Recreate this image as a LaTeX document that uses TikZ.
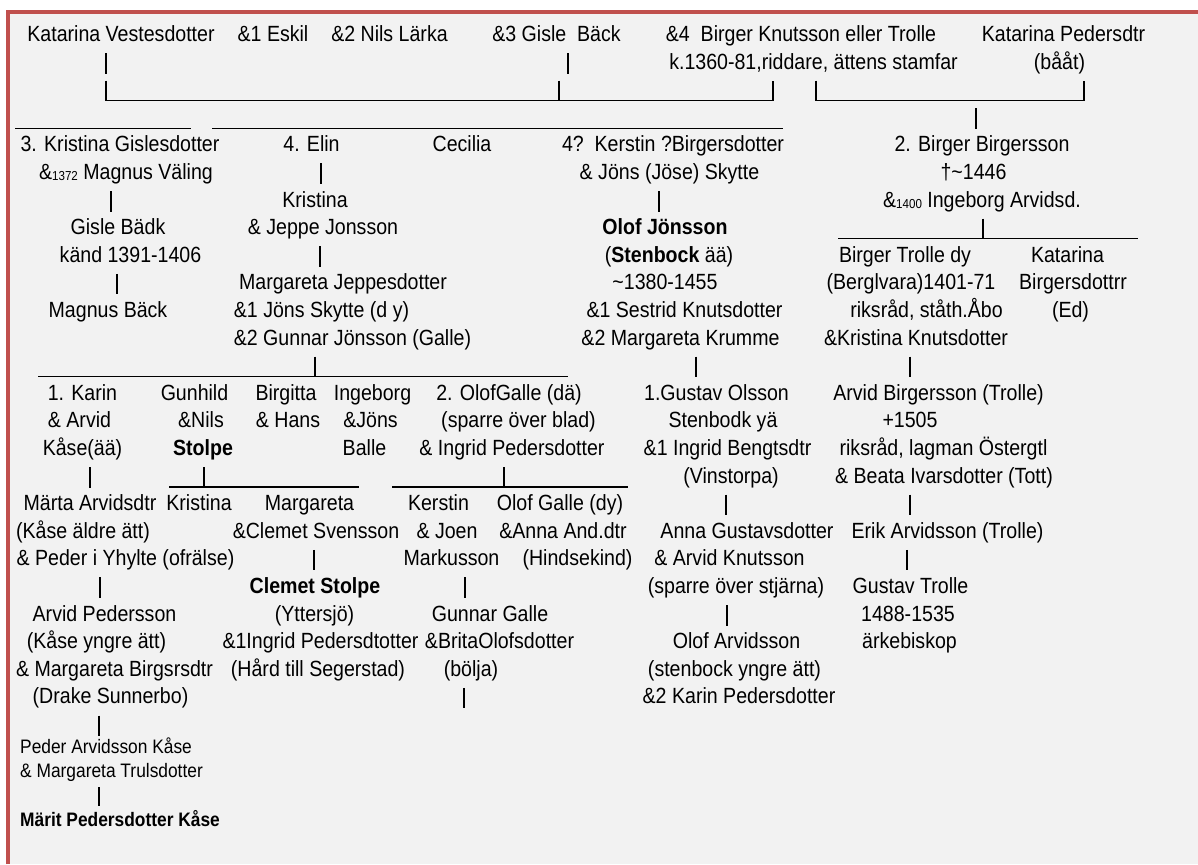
\documentclass[tikz,border=0pt]{standalone}
\usepackage{fontspec}
\setmainfont{Liberation Sans}[FakeStretch=0.89]
\definecolor{frame}{HTML}{C0504D}
\definecolor{paper}{HTML}{F2F2F2}
\newcommand\yr[1]{\raisebox{-1pt}{\fontsize{13}{13}\selectfont#1}}

\begin{document}
\begin{tikzpicture}[x=1pt,y=-1pt,
    txt/.style={anchor=base,inner sep=0pt,font=\fontsize{22}{26}\selectfont},
    strong/.style={txt,font=\fontsize{22}{26}\selectfont\bfseries},
    smalltxt/.style={anchor=base west,inner sep=0pt,font=\fontsize{19.5}{24}\selectfont},
    bar/.style={draw=black,line width=1.2pt}]
    \useasboundingbox (0,0) rectangle (1198,864);
    \fill[paper] (8,12) rectangle (1198,864);
    \draw[frame,line width=4pt] (8,864) -- (8,12) -- (1198,12);

    \begin{scope}[y=-27.6pt,yshift=-13.9pt]
        \node[txt] (katv) at (121,1) {Katarina Vestesdotter};
        \node[txt] (eskil) at (273,1) {\&1 Eskil};
        \node[txt] (nils) at (389.5,1) {\&2 Nils Lärka};
        \node[txt] (gisle) at (556.5,1) {\&3 Gisle\ \ Bäck};
        \node[txt] (birger) at (801,1) {\&4\ \ Birger Knutsson eller Trolle};
        \node[txt] (katp) at (1063.5,1) {Katarina Pedersdtr};
        \node[txt] (birger2) at (813.5,2) {k.1360-81,riddare, ättens stamfar};
        \node[txt] (katp2) at (1059.5,2) {(bååt)};
        \draw[bar] (106,1.42) -- (106,2.16);
        \draw[bar] (568,1.42) -- (568,2.16);
        \draw[bar] (106,2.42) -- (106,3.14) -- (773,3.14) -- (773,2.42);
        \draw[bar] (559,2.42) -- (559,3.14);
        \draw[bar] (816,2.42) -- (816,3.14) -- (1084,3.14) -- (1084,2.42);
        \draw[bar] (15,4.14) -- (191,4.14);
        \draw[bar] (212,4.14) -- (783,4.14);
        \draw[bar] (976,3.42) -- (976,4.16);

        \node[txt] (kristina) at (120,5) {3. Kristina Gislesdotter};
        \node[txt] (kristina2) at (126,6) {\&\yr{1372} Magnus Väling};
        \draw[bar] (111,6.42) -- (111,7.16);
        \node[txt] (gisleb) at (118,8) {Gisle Bädk};
        \node[txt] (gisleb2) at (130.5,9) {känd 1391-1406};
        \draw[bar] (117,9.42) -- (117,10.16);
        \node[txt] (magnus) at (108,11) {Magnus Bäck};

        \node[txt] (elin) at (311.5,5) {4. Elin};
        \draw[bar] (321,5.42) -- (321,6.16);
        \node[txt] (kristinaj) at (315,7) {Kristina};
        \node[txt] (kristinaj2) at (323,8) {\& Jeppe Jonsson};
        \draw[bar] (320,8.42) -- (320,9.16);
        \node[txt] (margj) at (343,10) {Margareta Jeppesdotter};
        \node[txt] (margj2) at (321.5,11) {\&1 Jöns Skytte (d y)};
        \node[txt] (margj3) at (352.5,12) {\&2 Gunnar Jönsson (Galle)};
        \node[txt] (cecilia) at (462,5) {Cecilia};

        \node[txt] (kerstin) at (673,5) {4?\ \ Kerstin ?Birgersdotter};
        \node[txt] (kerstin2) at (669.5,6) {\& Jöns (Jöse) Skytte};
        \draw[bar] (659,6.42) -- (659,7.16);
        \node[strong] (olofj) at (665,8) {Olof Jönsson};
        \node[txt] (olofj2) at (669,9) {(\textbf{Stenbock} ää)};
        \node[txt] (olofj3) at (665,10) {\textasciitilde1380-1455};
        \node[txt] (olofj4) at (684.5,11) {\&1 Sestrid Knutsdotter};
        \node[txt] (olofj5) at (680.5,12) {\&2 Margareta Krumme};

        \node[txt] (birgerb) at (982,5) {2. Birger Birgersson};
        \node[txt] (birgerb2) at (973.5,6) {†\textasciitilde1446};
        \node[txt] (birgerb3) at (982,7) {\&\yr{1400} Ingeborg Arvidsd.};
        \draw[bar] (838,8.14) -- (1138,8.14);
        \draw[bar] (983,7.42) -- (983,8.14);
        \node[txt] (birgert) at (905,9) {Birger Trolle dy};
        \node[txt] (birgert2) at (911,10) {(Berglvara)1401-71};
        \node[txt] (birgert3) at (926.5,11) {riksråd, ståth.Åbo};
        \node[txt] (birgert4) at (916,12) {\&Kristina Knutsdotter};
        \node[txt] (katb) at (1067.5,9) {Katarina};
        \node[txt] (katb2) at (1073,10) {Birgersdottrr};
        \node[txt] (katb3) at (1070.5,11) {(Ed)};

        \draw[bar] (38,13.14) -- (568,13.14);
        \draw[bar] (315,12.42) -- (315,13.14);
        \draw[bar] (696,12.42) -- (696,13.16);
        \draw[bar] (910,12.42) -- (910,13.16);

        \node[txt] (karin) at (82.5,14) {1. Karin};
        \node[txt] (karin2) at (79.5,15) {\& Arvid};
        \node[txt] (karin3) at (82.5,16) {Kåse(ää)};
        \node[txt] (gunhild) at (194.5,14) {Gunhild};
        \node[txt] (gunhild2) at (201,15) {\&Nils};
        \node[strong] (gunhild3) at (203,16) {Stolpe};
        \node[txt] (birgitta) at (286,14) {Birgitta};
        \node[txt] (birgitta2) at (288,15) {\& Hans};
        \node[txt] (ingeborg) at (372.5,14) {Ingeborg};
        \node[txt] (ingeborg2) at (370.5,15) {\&Jöns};
        \node[txt] (ingeborg3) at (364.5,16) {Balle};
        \node[txt] (olofg) at (509,14) {2. OlofGalle (dä)};
        \node[txt] (olofg2) at (518.5,15) {(sparre över blad)};
        \node[txt] (olofg3) at (512,16) {\& Ingrid Pedersdotter};
        \node[txt] (gustav) at (716.5,14) {1.Gustav Olsson};
        \node[txt] (gustav2) at (723,15) {Stenbodk yä};
        \node[txt] (gustav3) at (727.5,16) {\&1 Ingrid Bengtsdtr};
        \node[txt] (gustav4) at (731,17) {(Vinstorpa)};
        \node[txt] (arvidb) at (938.5,14) {Arvid Birgersson (Trolle)};
        \node[txt] (arvidb2) at (910,15) {+1505};
        \node[txt] (arvidb3) at (943.5,16) {riksråd, lagman Östergtl};
        \node[txt] (arvidb4) at (944,17) {\& Beata Ivarsdotter (Tott)};

        \draw[bar] (90,16.42) -- (90,17.16);
        \draw[bar] (169,17.14) -- (359,17.14);
        \draw[bar] (204,16.42) -- (204,17.14);
        \draw[bar] (392,17.14) -- (628,17.14);
        \draw[bar] (504,16.42) -- (504,17.14);
        \draw[bar] (726,17.42) -- (726,18.16);
        \draw[bar] (910,17.42) -- (910,18.16);

        \node[txt] (marta) at (90,18) {Märta Arvidsdtr};
        \node[txt] (marta2) at (83,19) {(Kåse äldre ätt)};
        \node[txt] (marta3) at (125.5,20) {\& Peder i Yhylte (ofrälse)};
        \draw[bar] (100,20.42) -- (100,21.16);
        \node[txt] (arvidp) at (104.5,22) {Arvid Pedersson};
        \node[txt] (arvidp2) at (96.5,23) {(Kåse yngre ätt)};
        \node[txt] (arvidp3) at (114.5,24) {\& Margareta Birgsrsdtr};
        \node[txt] (arvidp4) at (110.5,25) {(Drake Sunnerbo)};
        \draw[bar] (99,25.42) -- (99,26.16);
        \node[txt] (kristinas) at (199,18) {Kristina};
        \node[txt] (margs) at (309.5,18) {Margareta};
        \node[txt] (margs2) at (316,19) {\&Clemet Svensson};
        \draw[bar] (314,19.42) -- (314,20.16);
        \node[strong] (clemet) at (315,21) {Clemet Stolpe};
        \node[txt] (clemet2) at (314.5,22) {(Yttersjö)};
        \node[txt] (clemet3) at (320.5,23) {\&1Ingrid Pedersdtotter};
        \node[txt] (clemet4) at (318,24) {(Hård till Segerstad)};
        \node[txt] (kerstinm) at (438.5,18) {Kerstin};
        \node[txt] (kerstinm2) at (447,19) {\& Joen};
        \node[txt] (kerstinm3) at (451.5,20) {Markusson};
        \draw[bar] (465,20.42) -- (465,21.16);
        \node[txt] (gunnar) at (490,22) {Gunnar Galle};
        \node[txt] (gunnar2) at (499.5,23) {\&BritaOlofsdotter};
        \node[txt] (gunnar3) at (471,24) {(bölja)};
        \draw[bar] (464,24.42) -- (464,25.16);
        \node[txt] (olofd) at (560,18) {Olof Galle (dy)};
        \node[txt] (olofd2) at (563,19) {\&Anna And.dtr};
        \node[txt] (olofd3) at (577.5,20) {(Hindsekind)};

        \node[txt] (anna) at (747,19) {Anna Gustavsdotter};
        \node[txt] (anna2) at (729.5,20) {\& Arvid Knutsson};
        \node[txt] (anna3) at (736,21) {(sparre över stjärna)};
        \draw[bar] (727,21.42) -- (727,22.16);
        \node[txt] (olofa) at (736.5,23) {Olof Arvidsson};
        \node[txt] (olofa2) at (734.5,24) {(stenbock yngre ätt)};
        \node[txt] (olofa3) at (739,25) {\&2 Karin Pedersdotter};
        \node[txt] (erik) at (947.5,19) {Erik Arvidsson (Trolle)};
        \draw[bar] (907,19.42) -- (907,20.16);
        \node[txt] (gustavt) at (910.5,21) {Gustav Trolle};
        \node[txt] (gustavt2) at (908,22) {1488-1535};
        \node[txt] (gustavt3) at (909.5,23) {ärkebiskop};
    \end{scope}

    \node[smalltxt] (peder) at (20,753) {Peder Arvidsson Kåse};
    \node[smalltxt] (peder2) at (20,777) {\& Margareta Trulsdotter};
    \draw[bar] (99,787) -- (99,806);
    \node[smalltxt,font=\fontsize{19.5}{24}\selectfont\bfseries] (marit) at (20,826) {Märit Pedersdotter Kåse};
\end{tikzpicture}
\end{document}
